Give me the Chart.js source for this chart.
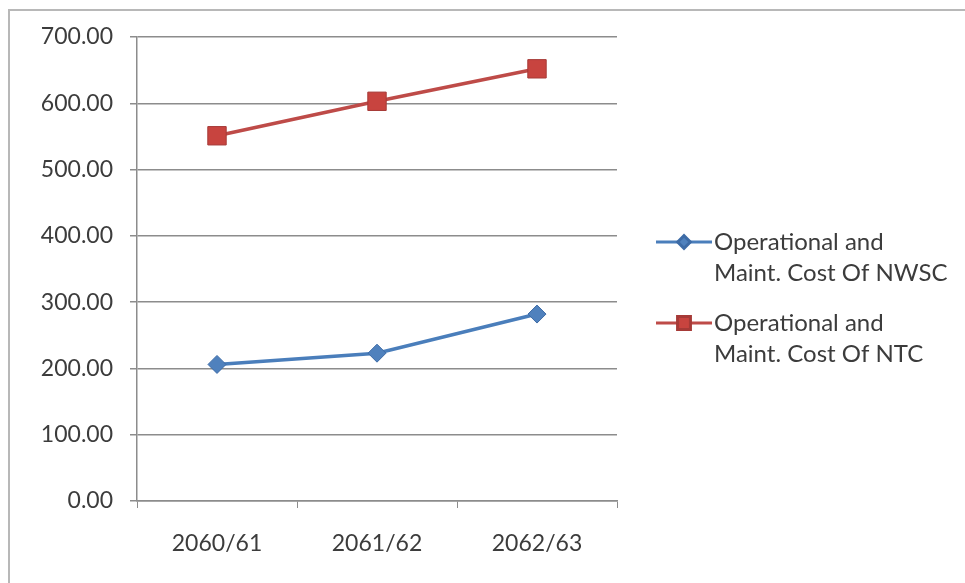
<!DOCTYPE html>
<html>
<head>
<meta charset="utf-8">
<script src="https://cdn.jsdelivr.net/npm/chart.js@4"></script>
<style>
  html, body { margin: 0; padding: 0; background: #fff; }
  #wrap { position: relative; width: 965px; height: 583px; overflow: hidden; }
  #frame { position: absolute; left: 8px; top: 9px; width: 980px; height: 600px;
           border: 2px solid #b8b8b8; box-sizing: border-box; }
  canvas { position: absolute; left: 0; top: 0; }
</style>
</head>
<body>
<div id="wrap">
  <div id="frame"></div>
  <canvas id="costChart" width="965" height="583"></canvas>
</div>
<script>
const years = ['2060/61', '2061/62', '2062/63'];
const nwscCost = [206, 223, 282];
const ntcCost = [551, 603, 652];
const nwscLabel = ['Operational and', 'Maint. Cost Of NWSC'];
const ntcLabel = ['Operational and', 'Maint. Cost Of NTC'];

const textColor = '#3c3c3c';
const gridColor = '#8c8c8c';
const fontFamily = 'Lato, "Open Sans", sans-serif';

// legend with two-line labels, drawn beside the plot
const sideLegend = {
  id: 'sideLegend',
  afterDraw(chart) {
    const c = chart.ctx;
    const x0 = 656, lineLen = 56;
    const rows = [{ ds: chart.data.datasets[0], top: 242 }, { ds: chart.data.datasets[1], top: 323 }];
    c.save();
    c.font = '24px ' + fontFamily;
    c.textBaseline = 'middle';
    rows.forEach(r => {
      const midY = r.top;
      c.strokeStyle = r.ds.borderColor;
      c.lineWidth = 3;
      c.beginPath();
      c.moveTo(x0, midY);
      c.lineTo(x0 + lineLen, midY);
      c.stroke();
      c.fillStyle = r.ds.pointBackgroundColor;
      c.strokeStyle = r.ds.pointBorderColor;
      Chart.helpers.drawPoint(c, {
        pointStyle: r.ds.pointStyle,
        radius: r.ds.pointRadius * 0.7,
        rotation: 0,
        borderWidth: 1
      }, x0 + lineLen / 2, midY);
      c.fillStyle = textColor;
      r.ds.label.forEach((t, i) => c.fillText(t, x0 + lineLen + 2, midY + i * 31));
    });
    c.restore();
  }
};

new Chart(document.getElementById('costChart'), {
  type: 'line',
  data: {
    labels: years,
    datasets: [
      {
        label: nwscLabel,
        data: nwscCost,
        borderColor: '#4a7ebb',
        borderWidth: 3.5,
        pointStyle: 'rectRot',
        pointRadius: 9,
        pointBackgroundColor: '#4f81bd',
        pointBorderColor: '#3d6ba6',
        pointBorderWidth: 1,
        tension: 0
      },
      {
        label: ntcLabel,
        data: ntcCost,
        borderColor: '#be4b48',
        borderWidth: 3.5,
        pointStyle: 'rect',
        pointRadius: 13,
        pointBackgroundColor: '#c8443f',
        pointBorderColor: '#a63a37',
        pointBorderWidth: 1,
        tension: 0
      }
    ]
  },
  options: {
    responsive: false,
    animation: false,
    layout: { padding: { left: 10, right: 348, top: 37, bottom: 0 } },
    plugins: { legend: { display: false }, tooltip: { enabled: false } },
    scales: {
      x: {
        offset: true,
        grid: { offset: true, drawOnChartArea: false, color: gridColor, tickLength: 7, tickColor: gridColor },
        border: { color: gridColor, width: 1.5 },
        ticks: { color: textColor, font: { family: fontFamily, size: 23 }, padding: 22, maxRotation: 0 },
        afterFit(scale) { scale.height = 82; }
      },
      y: {
        min: 0,
        max: 700,
        grid: { color: gridColor, lineWidth: 1.5, tickLength: 7, tickColor: gridColor },
        border: { color: gridColor, width: 1.5 },
        ticks: {
          stepSize: 100,
          color: textColor,
          font: { family: fontFamily, size: 23 },
          padding: 17,
          callback: v => v.toFixed(2)
        },
        afterFit(scale) { scale.width = 127; }
      }
    }
  },
  plugins: [sideLegend]
});
</script>
</body>
</html>
